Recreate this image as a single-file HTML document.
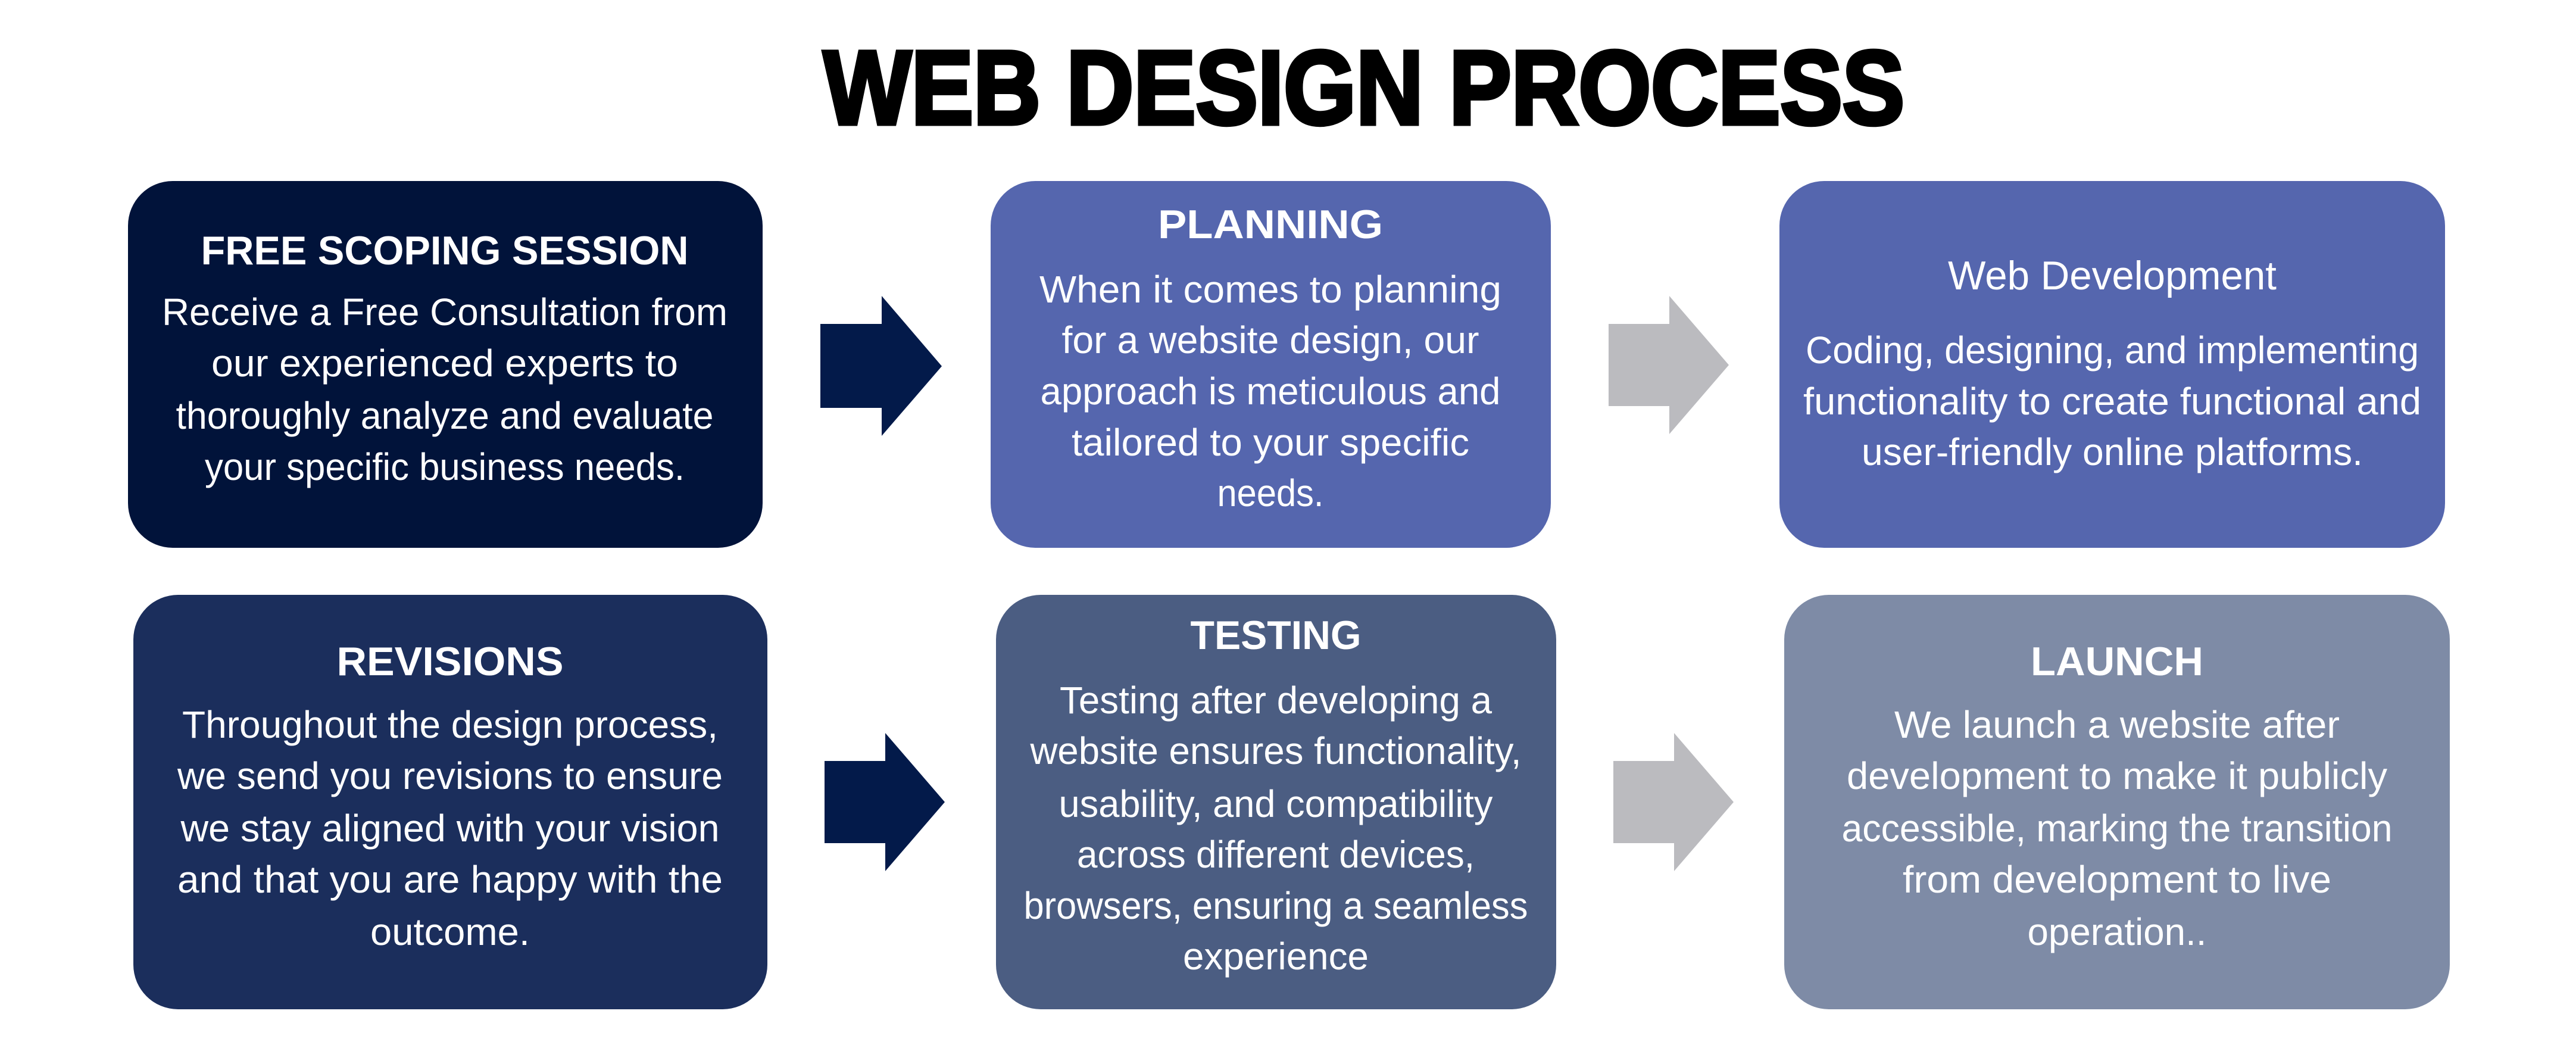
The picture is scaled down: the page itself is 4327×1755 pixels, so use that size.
<!DOCTYPE html>
<html><head><meta charset="utf-8"><style>
html,body{margin:0;padding:0;background:#fff;width:4327px;height:1755px;overflow:hidden}
svg{display:block}
text{font-family:"Liberation Sans",sans-serif;fill:#fff;text-anchor:middle}
.h{font-weight:bold;font-size:68px}
.b{font-size:64px}
</style></head><body>
<svg width="4327" height="1755" viewBox="0 0 4327 1755" xmlns="http://www.w3.org/2000/svg">
<rect width="4327" height="1755" fill="#fff"/>
<text x="2291" y="208" style="fill:#000;stroke:#000;stroke-width:7px;font-weight:900;font-size:176px" textLength="1816" lengthAdjust="spacingAndGlyphs">WEB DESIGN PROCESS</text>

<rect x="215" y="304" width="1066" height="616" rx="75" fill="#01133a"/>
<rect x="1664" y="304" width="941" height="616" rx="75" fill="#5566ae"/>
<rect x="2989" y="304" width="1118" height="616" rx="75" fill="#5566ae"/>
<rect x="224" y="999" width="1065" height="696" rx="75" fill="#1b2e5c"/>
<rect x="1673" y="999" width="941" height="696" rx="75" fill="#4b5d82"/>
<rect x="2997" y="999" width="1118" height="696" rx="75" fill="#7e8ba6"/>

<polygon points="1378,544 1481,544 1481,497 1582,615 1481,732 1481,685 1378,685" fill="#031a4a"/>
<polygon points="2702,544 2804,544 2804,497 2904,613 2804,729 2804,682 2702,682" fill="#bbbbbf"/>
<polygon points="1385,1278 1487,1278 1487,1231 1587,1347 1487,1463 1487,1416 1385,1416" fill="#031a4a"/>
<polygon points="2710,1278 2812,1278 2812,1231 2912,1347 2812,1463 2812,1416 2710,1416" fill="#bbbbbf"/>

<text class="h" x="747" y="444" textLength="819" lengthAdjust="spacingAndGlyphs">FREE SCOPING SESSION</text>
<text class="b" x="747" y="546" textLength="950" lengthAdjust="spacingAndGlyphs">Receive a Free Consultation from</text>
<text class="b" x="747" y="632" textLength="784" lengthAdjust="spacingAndGlyphs">our experienced experts to</text>
<text class="b" x="747" y="720" textLength="903" lengthAdjust="spacingAndGlyphs">thoroughly analyze and evaluate</text>
<text class="b" x="747" y="806" textLength="806" lengthAdjust="spacingAndGlyphs">your specific business needs.</text>

<text class="h" x="2134" y="400" textLength="378" lengthAdjust="spacingAndGlyphs">PLANNING</text>
<text class="b" x="2134" y="508" textLength="776" lengthAdjust="spacingAndGlyphs">When it comes to planning</text>
<text class="b" x="2134" y="593" textLength="701" lengthAdjust="spacingAndGlyphs">for a website design, our</text>
<text class="b" x="2134" y="679" textLength="773" lengthAdjust="spacingAndGlyphs">approach is meticulous and</text>
<text class="b" x="2134" y="765" textLength="668" lengthAdjust="spacingAndGlyphs">tailored to your specific</text>
<text class="b" x="2134" y="850" textLength="179" lengthAdjust="spacingAndGlyphs">needs.</text>

<text class="b" x="3548" y="486" textLength="552" lengthAdjust="spacingAndGlyphs" style="font-size:68px">Web Development</text>
<text class="b" x="3548" y="610" textLength="1030" lengthAdjust="spacingAndGlyphs">Coding, designing, and implementing</text>
<text class="b" x="3548" y="696" textLength="1038" lengthAdjust="spacingAndGlyphs">functionality to create functional and</text>
<text class="b" x="3548" y="781" textLength="842" lengthAdjust="spacingAndGlyphs">user-friendly online platforms.</text>

<text class="h" x="756" y="1134" textLength="381" lengthAdjust="spacingAndGlyphs">REVISIONS</text>
<text class="b" x="756" y="1239" textLength="900" lengthAdjust="spacingAndGlyphs">Throughout the design process,</text>
<text class="b" x="756" y="1325" textLength="916" lengthAdjust="spacingAndGlyphs">we send you revisions to ensure</text>
<text class="b" x="756" y="1413" textLength="905" lengthAdjust="spacingAndGlyphs">we stay aligned with your vision</text>
<text class="b" x="756" y="1499" textLength="916" lengthAdjust="spacingAndGlyphs">and that you are happy with the</text>
<text class="b" x="756" y="1587" textLength="268" lengthAdjust="spacingAndGlyphs">outcome.</text>

<text class="h" x="2143" y="1090" textLength="287" lengthAdjust="spacingAndGlyphs">TESTING</text>
<text class="b" x="2143" y="1198" textLength="726" lengthAdjust="spacingAndGlyphs">Testing after developing a</text>
<text class="b" x="2143" y="1283" textLength="825" lengthAdjust="spacingAndGlyphs">website ensures functionality,</text>
<text class="b" x="2143" y="1372" textLength="729" lengthAdjust="spacingAndGlyphs">usability, and compatibility</text>
<text class="b" x="2143" y="1457" textLength="668" lengthAdjust="spacingAndGlyphs">across different devices,</text>
<text class="b" x="2143" y="1543" textLength="847" lengthAdjust="spacingAndGlyphs">browsers, ensuring a seamless</text>
<text class="b" x="2143" y="1628" textLength="312" lengthAdjust="spacingAndGlyphs">experience</text>

<text class="h" x="3556" y="1134" textLength="290" lengthAdjust="spacingAndGlyphs">LAUNCH</text>
<text class="b" x="3556" y="1239" textLength="748" lengthAdjust="spacingAndGlyphs">We launch a website after</text>
<text class="b" x="3556" y="1325" textLength="908" lengthAdjust="spacingAndGlyphs">development to make it publicly</text>
<text class="b" x="3556" y="1413" textLength="925" lengthAdjust="spacingAndGlyphs">accessible, marking the transition</text>
<text class="b" x="3556" y="1499" textLength="720" lengthAdjust="spacingAndGlyphs">from development to live</text>
<text class="b" x="3556" y="1587" textLength="301" lengthAdjust="spacingAndGlyphs">operation..</text>
</svg>
</body></html>
